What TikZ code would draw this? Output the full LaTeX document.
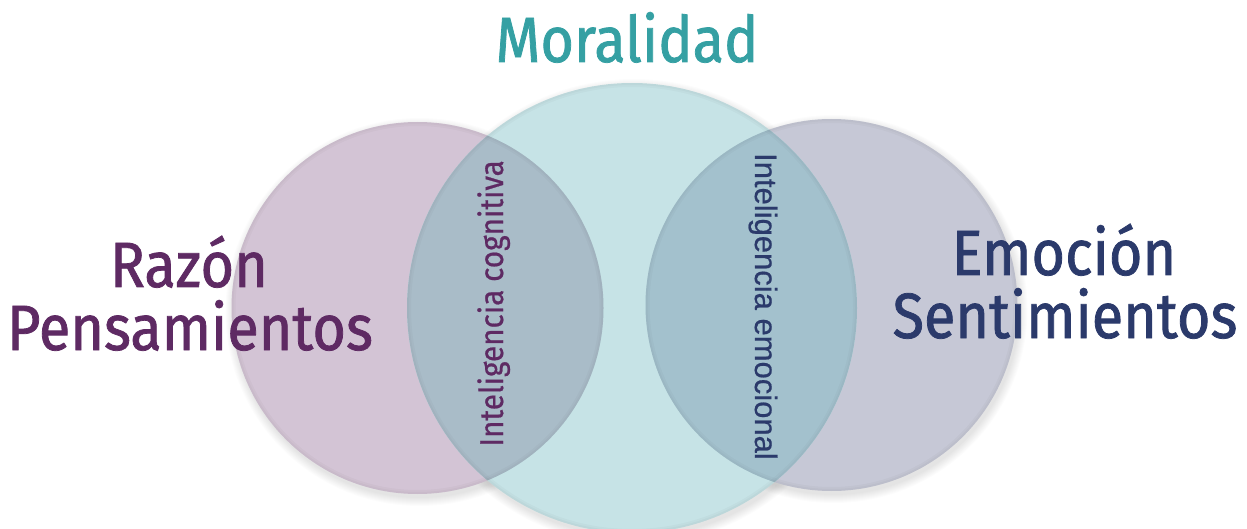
\documentclass[tikz,border=0pt]{standalone}
\usepackage{fontspec}
\usetikzlibrary{calc}
\setmainfont{Fira Sans}
\newfontfamily\bigfont[FakeStretch=0.9,FakeBold=1.2]{Fira Sans}
\newfontfamily\cogfont[FakeStretch=0.9,FakeBold=0.6]{Fira Sans}
\newfontfamily\labfont[FakeBold=0.6]{Liberation Sans}
\definecolor{cpurple}{HTML}{D3C4D5}
\definecolor{cteal}{HTML}{C6E3E6}
\definecolor{cnavy}{HTML}{C6C8D6}
\definecolor{cpt}{HTML}{A9BCC8}
\definecolor{cnt}{HTML}{A3C1CD}
\definecolor{tteal}{HTML}{35A0A3}
\definecolor{tpurple}{HTML}{5E2A63}
\definecolor{tnavy}{HTML}{2B3A6B}
\begin{document}
\begin{tikzpicture}[x=1pt,y=-1pt,
  big/.style={font=\bigfont\fontsize{64}{63}\selectfont, inner sep=0pt, anchor=base},
  rot/.style={inner sep=0pt, anchor=base},
  rim/.style={draw=black, draw opacity=0.025, line width=#1}]
\useasboundingbox (0,0) rectangle (1247,529);
\coordinate (L) at (417.5,308);
\coordinate (M) at (632,308);
\coordinate (R) at (831.5,305);
% soft shadows
\foreach \i in {1,...,9}{
  \fill[black,opacity=0.012] ($(L)+(2,4)$) circle (185+\i);
  \fill[black,opacity=0.012] ($(M)+(2,4)$) circle (224+\i);
  \fill[black,opacity=0.012] ($(R)+(2,4)$) circle (185+\i);
}
\fill[cpurple] (L) circle (186);
\fill[cnavy] (R) circle (186);
\fill[cteal] (M) circle (225);
\begin{scope}
  \clip (L) circle (186);
  \fill[cpt] (M) circle (225);
\end{scope}
\begin{scope}
  \clip (R) circle (186);
  \fill[cnt] (M) circle (225);
\end{scope}
\foreach \c/\r in {L/186,R/186,M/225}{
  \begin{scope}
    \clip (\c) circle (\r);
    \draw[rim=8pt] (\c) circle (\r);
    \draw[rim=4pt] (\c) circle (\r);
  \end{scope}
}
\node[big, text=tteal] (mor) at (627,62) {Moralidad};
\node[big, text=tpurple] (raz) at (189,287) {Razón};
\node[big, text=tpurple] (pen) at (190,350) {Pensamientos};
\node[big, text=tnavy] (emo) at (1064,275) {Emoción};
\node[big, text=tnavy] (sen) at (1065,338) {Sentimientos};
\node[rot, text=tpurple, rotate=90, font=\cogfont\fontsize{33}{34}\selectfont] (cog) at (503,303.5) {Inteligencia cognitiva};
\node[rot, text=tnavy, rotate=-90, font=\labfont\fontsize{31}{32}\selectfont] (emc) at (755,306.5) {Inteligencia emocional};
\end{tikzpicture}
\end{document}
